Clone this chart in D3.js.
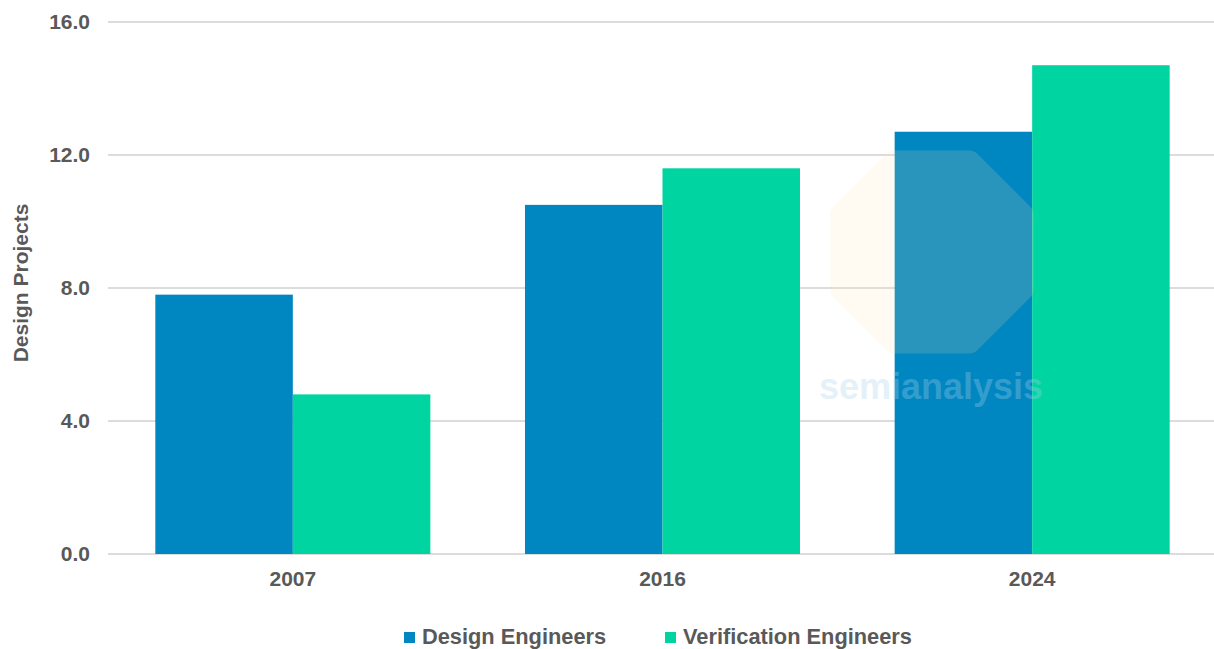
<!DOCTYPE html>
<html>
<head>
<meta charset="utf-8">
<script src="https://cdn.jsdelivr.net/npm/d3@7"></script>
<style>
  html, body { margin: 0; padding: 0; background: #fff; }
  svg { display: block; font-family: "Liberation Sans", Arial, sans-serif; }
</style>
</head>
<body>
<svg id="chart" width="1214" height="649"></svg>
<script>
// Design projects per engineer type, by year
const years = ["2007", "2016", "2024"];
const seriesNames = ["Design Engineers", "Verification Engineers"];
const designEngineers = [7.8, 10.5, 12.7];
const verificationEngineers = [4.8, 11.6, 14.7];
const yTicks = [0, 4, 8, 12, 16];
const colors = ["#0086c0", "#00d4a0"];

const svg = d3.select("#chart");
const margin = { top: 22, right: -3, bottom: 95, left: 108 };
const W = 1214, H = 649;
const fontSize = 21;
const textColor = "#595959";

const x0 = d3.scaleBand().domain(years).range([margin.left, W - margin.right]).paddingInner(0.256).paddingOuter(0.128);
const x1 = d3.scaleBand().domain(seriesNames).range([0, x0.bandwidth()]);
const y = d3.scaleLinear().domain([0, 16]).range([H - margin.bottom, margin.top]);

// gridlines
svg.append("g").selectAll("line").data(yTicks).join("line")
  .attr("x1", margin.left).attr("x2", W)
  .attr("y1", d => y(d)).attr("y2", d => y(d))
  .attr("stroke", "#d0d0d0").attr("stroke-width", 1.3);

// y tick labels
const yAxis = svg.append("g").attr("transform", `translate(${margin.left},0)`)
  .call(d3.axisLeft(y).tickValues(yTicks).tickFormat(d3.format(".1f")).tickSize(0).tickPadding(18));
yAxis.select(".domain").remove();
yAxis.selectAll("text").attr("fill", textColor).attr("font-size", fontSize).attr("font-weight", "bold")
  .attr("font-family", "Liberation Sans, Arial, sans-serif");

// bars
const rows = years.map((yr, i) => ({ year: yr, values: [designEngineers[i], verificationEngineers[i]] }));
svg.append("g").selectAll("g").data(rows).join("g")
  .attr("transform", d => `translate(${x0(d.year)},0)`)
  .selectAll("rect").data(d => d.values.map((v, k) => ({ key: seriesNames[k], value: v, k })))
  .join("rect")
  .attr("x", d => x1(d.key)).attr("width", x1.bandwidth())
  .attr("y", d => y(d.value)).attr("height", d => y(0) - y(d.value))
  .attr("fill", d => colors[d.k]);

// x axis labels
const xAxis = svg.append("g").attr("transform", `translate(0,${y(0)})`)
  .call(d3.axisBottom(x0).tickSize(0).tickPadding(17));
xAxis.select(".domain").remove();
xAxis.selectAll("text").attr("fill", textColor).attr("font-size", fontSize).attr("font-weight", "bold")
  .attr("font-family", "Liberation Sans, Arial, sans-serif");

// y axis title
svg.append("text")
  .attr("transform", "translate(27.5,283) rotate(-90)")
  .attr("text-anchor", "middle").attr("fill", textColor)
  .attr("font-size", fontSize).attr("font-weight", "bold")
  .text("Design Projects");

// legend
const legend = svg.append("g").attr("transform", "translate(0,644)");
const legendX = [404, 665];
seriesNames.forEach((name, i) => {
  legend.append("rect").attr("x", legendX[i]).attr("y", -12).attr("width", 11).attr("height", 11).attr("fill", colors[i]);
  legend.append("text").attr("x", legendX[i] + 18).attr("y", 0)
    .attr("fill", textColor).attr("font-size", 21.8).attr("font-weight", "bold").text(name);
});

// watermark
const wm = svg.append("g");
const cx = 932, cy = 252, r = 97;
const oct = d3.range(8).map(k => {
  const a = Math.PI / 8 + k * Math.PI / 4;
  return [cx + r * Math.cos(a), cy + r * Math.sin(a)];
});
wm.append("path").attr("d", d3.line()(oct) + "Z")
  .attr("fill", "#ffe2b0").attr("opacity", 0.16)
  .attr("stroke", "#ffe2b0").attr("stroke-width", 24).attr("stroke-linejoin", "round");
wm.append("text").attr("x", 931).attr("y", 399).attr("text-anchor", "middle")
  .attr("font-size", 36).attr("font-weight", "bold").attr("fill", "#a8d2ee").attr("opacity", 0.3)
  .attr("font-family", "Liberation Sans, Arial, sans-serif").text("semianalysis");
</script>
</body>
</html>
